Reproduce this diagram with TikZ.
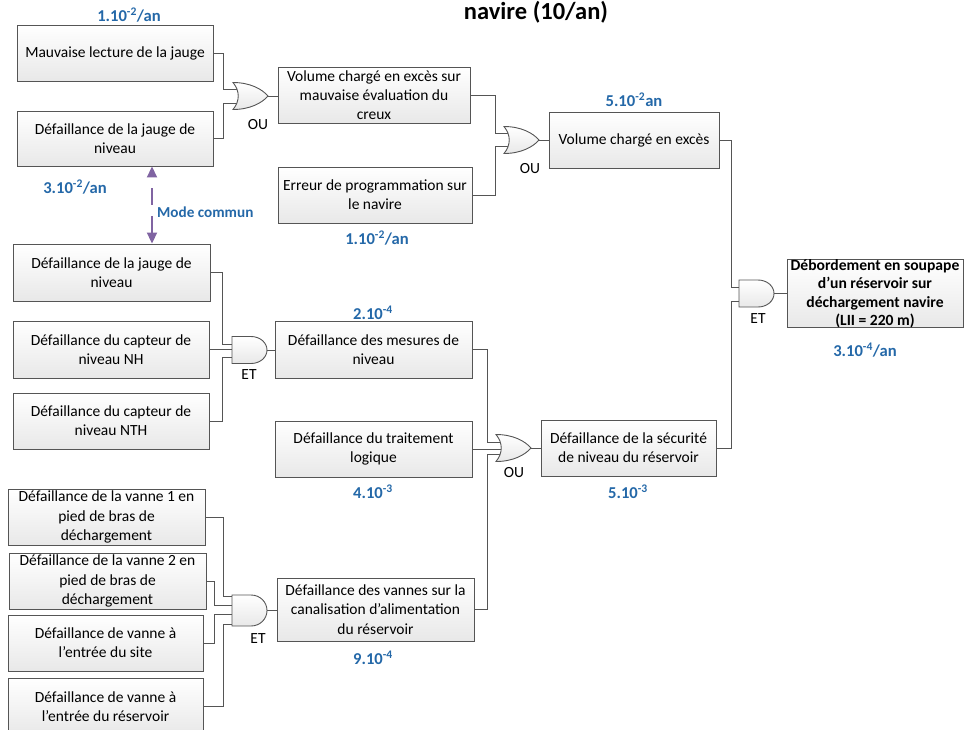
\documentclass[tikz,border=0pt]{standalone}
\usepackage{fontspec}
\setmainfont{Carlito}
\usetikzlibrary{arrows.meta,calc}
\pgfdeclarelayer{background}
\pgfsetlayers{background,main}

\definecolor{edge}{HTML}{555555}
\definecolor{rate}{HTML}{2468A8}
\definecolor{link}{HTML}{8064A2}

\tikzset{
  event/.style={draw=edge, line width=0.9pt, top color=white, bottom color=black!9,
    align=center, font=\fontsize{15.5}{19.3}\selectfont, inner sep=0pt, minimum height=56pt},
  topevent/.style={event, font=\bfseries\fontsize{15.6}{18.5}\selectfont},
  wire/.style={draw=edge, line width=0.9pt},
  gatebody/.style={draw=edge, line width=0.9pt, top color=white, bottom color=black!9},
  rate/.style={text=rate, font=\bfseries\fontsize{16.6}{19}\selectfont, inner sep=0pt},
  gatelbl/.style={font=\fontsize{15.5}{17}\selectfont, inner sep=0pt},
  title/.style={font=\bfseries\fontsize{24.5}{28}\selectfont, inner sep=0pt},
  commun/.style={draw=link, line width=1.8pt, dash pattern=on 17pt off 11pt, dash phase=17pt,
    {Triangle[length=11pt,width=10pt]}-{Triangle[length=11pt,width=10pt]}},
  pics/orgate/.style={code={
    \path[gatebody] (0,-13.5) .. controls (17,-13.5) and (29,-7) .. (35,0)
      .. controls (29,7) and (17,13.5) .. (0,13.5)
      .. controls (7,5) and (7,-5) .. (0,-13.5) -- cycle;
    \coordinate (-in) at (0,0);
    \coordinate (-out) at (35,0);
  }},
  pics/andgate/.style={code={
    \path[gatebody] (0,-#1) -- (19,-#1) .. controls (28,-#1) and (35,-0.55*#1) .. (35,0)
      .. controls (35,0.55*#1) and (28,#1) .. (19,#1) -- (0,#1) -- cycle;
    \coordinate (-in) at (0,0);
    \coordinate (-out) at (35,0);
  }},
  pics/andgate/.default=13.5,
}

\begin{document}
\begin{tikzpicture}[x=1pt,y=-1pt]
\useasboundingbox (0,0) rectangle (964,729);

% title (partly outside the page)
\node[title] (ttl) at (536,12) {navire (10/an)};

% basic and intermediate events
\node[event, minimum width=196pt] (A) at (115,53) {Mauvaise lecture de la jauge};
\node[event, minimum width=196pt, minimum height=55pt] (B) at (115,138.5) {Défaillance de la jauge de\\niveau};
\node[event, minimum width=192pt] (C) at (374,95) {Volume chargé en excès sur\\mauvaise évaluation du\\creux};
\node[event, minimum width=194pt] (D) at (375,195) {Erreur de programmation sur\\le navire};
\node[event, minimum width=170pt] (E) at (634,140) {Volume chargé en excès};
\node[topevent, minimum width=176pt, minimum height=67pt] (F) at (875,293.5)
  {Débordement en soupape\\d’un réservoir sur\\déchargement navire\\(LII = 220 m)};
\node[event, minimum width=197pt, minimum height=57pt] (G) at (111.5,272.5) {Défaillance de la jauge de\\niveau};
\node[event, minimum width=196pt, minimum height=57pt] (H) at (111,349.5) {Défaillance du capteur de\\niveau NH};
\node[event, minimum width=196pt] (I) at (111,421) {Défaillance du capteur de\\niveau NTH};
\node[event, minimum width=197pt, minimum height=57pt] (J) at (373.5,349.5) {Défaillance des mesures de\\niveau};
\node[event, minimum width=197pt] (K) at (373.5,449) {Défaillance du traitement\\logique};
\node[event, minimum width=175pt] (L) at (628.5,448) {Défaillance de la sécurité\\de niveau du réservoir};
\node[event, minimum width=197pt] (M) at (106.5,517) {Défaillance de la vanne 1 en\\pied de bras de\\déchargement};
\node[event, minimum width=197pt] (N) at (107.5,581) {Défaillance de la vanne 2 en\\pied de bras de\\déchargement};
\node[event, minimum width=195pt] (O) at (105.5,643) {Défaillance de vanne à\\l’entrée du site};
\node[event, minimum width=195pt, minimum height=57pt] (P) at (105.5,706.5) {Défaillance de vanne à\\l’entrée du réservoir};
\node[event, minimum width=197pt, minimum height=63pt] (Q) at (375.5,609.5) {Défaillance des vannes sur la\\canalisation d’alimentation\\du réservoir};

% gates
\pic (or1) at (233,96) {orgate};
\pic (or2) at (504,140) {orgate};
\pic (or3) at (496,448) {orgate};
\pic (and1) at (232,350) {andgate};
\pic (and2) at (232,610.5) {andgate=15.5};
\pic (and3) at (739,293.5) {andgate};

\node[gatelbl] (l1) at (258,125) {OU};
\node[gatelbl] (l2) at (530,169) {OU};
\node[gatelbl] (l3) at (514,473) {OU};
\node[gatelbl] (l4) at (249,375) {ET};
\node[gatelbl] (l5) at (258,639) {ET};
\node[gatelbl] (l6) at (758,319) {ET};

% connectors
\begin{pgfonlayer}{background}
\draw[wire] (A.east) -- ++(10,0) |- ($(or1-in)+(6,-7)$);
\draw[wire] (B.east) -- ++(10,0) |- ($(or1-in)+(6,7)$);
\draw[wire] (or1-out) -- (or1-out -| C.west);
\draw[wire] (C.east) -- ++(25,0) |- ($(or2-in)+(6,-7)$);
\draw[wire] (D.east) -- ++(23,0) |- ($(or2-in)+(6,6)$);
\draw[wire] (or2-out) -- (or2-out -| E.west);
\draw[wire] (E.east) -- ++(12,0) |- ($(and3-in)+(2,-6.5)$);
\draw[wire] (L.east) -- ++(15,0) |- ($(and3-in)+(2,7.5)$);
\draw[wire] (and3-out) -- (and3-out -| F.west);
\draw[wire] (G.east) -- ++(12,0) |- ($(and1-in)+(2,-6)$);
\draw[wire] (H.east) -- ($(H.east -| and1-in)+(2,0)$);
\draw[wire] (I.east) -- ++(13,0) |- ($(and1-in)+(2,7)$);
\draw[wire] (and1-out) -- (and1-out -| J.west);
\draw[wire] (J.east) -- ++(15,0) |- ($(or3-in)+(6,-6)$);
\draw[wire] (K.east) -- ($(K.east -| or3-in)+(7,0)$);
\draw[wire] (Q.east) -- ++(13,0) |- ($(or3-in)+(6,6)$);
\draw[wire] (or3-out) -- (or3-out -| L.west);
\draw[wire] (M.east) -- ++(18,0) |- ($(and2-in)+(2,-14)$);
\draw[wire] (N.east) -- ++(8,0) |- ($(and2-in)+(2,-5.5)$);
\draw[wire] (O.east) -- ++(11,0) |- ($(and2-in)+(2,3.5)$);
\draw[wire] (P.east) -- ++(20,0) |- ($(and2-in)+(2,14)$);
\draw[wire] (and2-out) -- (and2-out -| Q.west);
\end{pgfonlayer}

% common-mode link between the two level gauge events
\coordinate (mc) at (152,0);
\draw[commun] (B.south -| mc) -- (G.north -| mc);
\node[rate, anchor=west, font=\bfseries\fontsize{15.2}{17}\selectfont] (mct) at (157,212) {Mode commun};

% frequencies and probabilities
\node[rate] (r1) at (129,15) {1.10\textsuperscript{-2}/an};
\node[rate] (r2) at (75,187) {3.10\textsuperscript{-2}/an};
\node[rate] (r3) at (377,238) {1.10\textsuperscript{-2}/an};
\node[rate] (r4) at (634,100) {5.10\textsuperscript{-2}an};
\node[rate] (r5) at (373,313) {2.10\textsuperscript{-4}};
\node[rate] (r6) at (373,492) {4.10\textsuperscript{-3}};
\node[rate] (r7) at (373,658) {9.10\textsuperscript{-4}};
\node[rate] (r8) at (628,492) {5.10\textsuperscript{-3}};
\node[rate] (r9) at (865,350) {3.10\textsuperscript{-4}/an};
\end{tikzpicture}
\end{document}
